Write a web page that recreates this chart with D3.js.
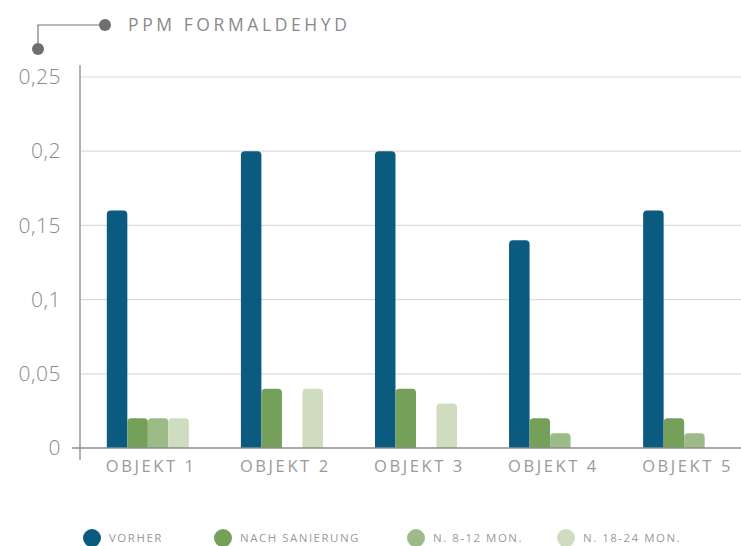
<!DOCTYPE html>
<html lang="de">
<head>
<meta charset="UTF-8">
<title>PPM Formaldehyd</title>
<script src="https://cdn.jsdelivr.net/npm/d3@7"></script>
<style>
  body { margin: 0; background: #fff; }
  text { font-family: "Open Sans", "DejaVu Sans", sans-serif; }
</style>
</head>
<body>
<script>
// Daten
const objekte = ['OBJEKT 1', 'OBJEKT 2', 'OBJEKT 3', 'OBJEKT 4', 'OBJEKT 5'];
const serien = ['VORHER', 'NACH SANIERUNG', 'N. 8-12 MON.', 'N. 18-24 MON.'];
const vorher = [0.16, 0.2, 0.2, 0.14, 0.16];
const nachSanierung = [0.02, 0.04, 0.04, 0.02, 0.02];
const n812 = [0.02, 0, 0, 0.01, 0.01];
const n1824 = [0.02, 0.04, 0.03, 0, 0];
const yTicks = [0, 0.05, 0.1, 0.15, 0.2, 0.25];
const farben = ['#0b5a80', '#74a05a', '#9dbb86', '#cfdcbf'];

const werte = [vorher, nachSanierung, n812, n1824];

const W = 741, H = 546;
const svg = d3.select('body').append('svg')
  .attr('width', W)
  .attr('height', H);

// Skalen
const x = d3.scaleBand().domain(objekte).range([80, 752]).paddingInner(0.388).paddingOuter(0.2);
const xs = d3.scaleBand().domain(serien).range([0, x.bandwidth()]);
const y = d3.scaleLinear().domain([0, 0.25]).range([448, 77]);
const farbe = d3.scaleOrdinal().domain(serien).range(farben);

// Gitterlinien
svg.append('g')
  .selectAll('line')
  .data(yTicks.filter(d => d > 0))
  .join('line')
  .attr('x1', 81).attr('x2', W)
  .attr('y1', d => y(d)).attr('y2', d => y(d))
  .attr('stroke', '#dcdcdc')
  .attr('stroke-width', 1.2);

// y-Achse
const yAxis = d3.axisLeft(y)
  .tickValues(yTicks)
  .tickSize(0)
  .tickPadding(19)
  .tickFormat(d => d === 0 ? '0' : String(d).replace('.', ','));
const gy = svg.append('g').attr('transform', 'translate(80,0)').call(yAxis);
gy.select('.domain').remove();
gy.selectAll('text')
  .attr('fill', '#8a8a8a')
  .attr('font-size', 21)
  .attr('letter-spacing', 0.5)
  .style('font-weight', 300);

svg.append('line')
  .attr('x1', 80).attr('x2', 80)
  .attr('y1', 65).attr('y2', 460)
  .attr('stroke', '#666').attr('stroke-width', 1);

// Balken mit abgerundeter Oberkante
function balken(x0, w, y0, y1, r) {
  const h = y1 - y0;
  if (h <= 0) return '';
  r = Math.min(r, h, w / 2);
  return `M${x0},${y1}V${y0 + r}Q${x0},${y0} ${x0 + r},${y0}H${x0 + w - r}Q${x0 + w},${y0} ${x0 + w},${y0 + r}V${y1}Z`;
}

const gruppen = svg.append('g')
  .selectAll('g')
  .data(objekte)
  .join('g')
  .attr('transform', d => `translate(${x(d)},0)`);

gruppen.selectAll('path')
  .data((d, i) => serien.map((s, j) => ({ serie: s, wert: werte[j][i] })))
  .join('path')
  .attr('d', d => balken(xs(d.serie), xs.bandwidth(), y(d.wert), y(0), 4))
  .attr('fill', d => farbe(d.serie));

// Nulllinie
svg.append('line')
  .attr('x1', 72).attr('x2', W)
  .attr('y1', y(0)).attr('y2', y(0))
  .attr('stroke', '#8c8c8c').attr('stroke-width', 1.5);

// x-Beschriftung
svg.append('g')
  .selectAll('text')
  .data(objekte)
  .join('text')
  .attr('x', d => x(d) - 1)
  .attr('y', 472)
  .attr('fill', '#9a9a9a')
  .attr('font-size', 16.5)
  .attr('letter-spacing', 2.6)
  .text(d => d);

// Titel mit Verbindungslinie
svg.append('path')
  .attr('d', 'M38,49V25H105')
  .attr('fill', 'none')
  .attr('stroke', '#777')
  .attr('stroke-width', 1.2);
svg.append('circle').attr('cx', 38).attr('cy', 49).attr('r', 6).attr('fill', '#6f6f6f');
svg.append('circle').attr('cx', 105).attr('cy', 25).attr('r', 6).attr('fill', '#6f6f6f');
svg.append('text')
  .attr('x', 128).attr('y', 31)
  .attr('fill', '#8a8a8a')
  .attr('font-size', 17.5)
  .attr('letter-spacing', 3.6)
  .text('PPM FORMALDEHYD');

// Legende
const legendeX = [92, 223, 416, 566];
const leg = svg.append('g')
  .selectAll('g')
  .data(serien)
  .join('g')
  .attr('transform', (d, i) => `translate(${legendeX[i]},538)`);
leg.append('circle')
  .attr('r', 9)
  .attr('fill', d => farbe(d));
leg.append('text')
  .attr('x', 17)
  .attr('y', 4)
  .attr('fill', '#9a9a9a')
  .attr('font-size', 11.5)
  .attr('letter-spacing', 1.5)
  .text(d => d);
</script>
</body>
</html>
